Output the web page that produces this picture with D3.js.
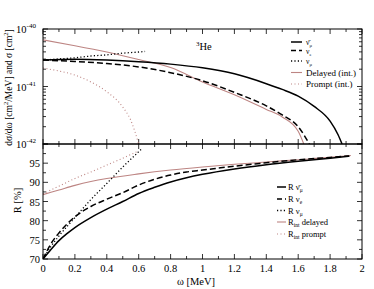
<!DOCTYPE html>
<html>
<head>
<meta charset="utf-8">
<script src="https://cdn.jsdelivr.net/npm/d3@7"></script>
<style>
  body { margin: 0; background: #fff; }
  text { font-family: "Liberation Serif", "DejaVu Serif", serif; fill: #000; }
</style>
</head>
<body>
<div id="chart"></div>
<script>
// omega grid [MeV] and cross sections [cm^2]
const wNuBarMu = [0, 0.2, 0.4, 0.6, 0.8, 1.0, 1.2, 1.4, 1.5, 1.6, 1.7, 1.8, 1.85, 1.875];
const sNuBarMu = [2.88e-41, 2.97e-41, 2.88e-41, 2.70e-41, 2.45e-41, 2.11e-41, 1.66e-41, 1.12e-41, 8.9e-42, 6.8e-42, 4.5e-42, 2.5e-42, 1.45e-42, 1.0e-42];
const wNuE = [0, 0.2, 0.4, 0.6, 0.8, 1.0, 1.2, 1.4, 1.5, 1.6, 1.67];
const sNuE = [2.88e-41, 2.72e-41, 2.51e-41, 2.19e-41, 1.74e-41, 1.26e-41, 7.9e-42, 4.6e-42, 3.2e-42, 2.0e-42, 1.0e-42];
const wNuMu = [0, 0.1, 0.2, 0.3, 0.4, 0.5, 0.6, 0.64];
const sNuMu = [2.88e-41, 3.02e-41, 3.16e-41, 3.39e-41, 3.55e-41, 3.80e-41, 3.98e-41, 4.07e-41];
const wDelayed = [0, 0.2, 0.4, 0.6, 0.8, 1.0, 1.2, 1.4, 1.5, 1.6, 1.635];
const sDelayed = [6.46e-41, 5.13e-41, 3.98e-41, 2.95e-41, 2.14e-41, 1.20e-41, 7.2e-42, 4.0e-42, 2.95e-42, 1.66e-42, 1.0e-42];
const wPrompt = [0, 0.1, 0.2, 0.3, 0.4, 0.5, 0.55, 0.6];
const sPrompt = [2.09e-41, 1.86e-41, 1.58e-41, 1.20e-41, 8.1e-42, 4.4e-42, 2.6e-42, 1.0e-42];

// ratios R [%]
const wR = [0, 0.05, 0.1, 0.15, 0.2, 0.3, 0.4, 0.5, 0.6, 0.7, 0.8, 0.9, 1.0, 1.2, 1.4, 1.6, 1.8, 1.92];
const rNuBarMu = [70, 72.5, 74.8, 76.6, 78.2, 80.8, 83, 85, 87.1, 88.7, 90.1, 91.2, 92.1, 93.5, 94.6, 95.5, 96.3, 96.8];
const rNuE = [70, 74, 76.8, 79.1, 81, 83.7, 85.6, 87.3, 89.3, 90.8, 91.9, 92.7, 93.2, 94.2, 95.1, 95.9, 96.5, 96.9];
const wRNuMu = [0, 0.05, 0.1, 0.2, 0.3, 0.4, 0.5, 0.6, 0.62];
const rNuMu = [70, 73.3, 76, 80.8, 85.5, 89.7, 94, 98, 98.8];
const wRDelayed = [0, 0.1, 0.2, 0.3, 0.4, 0.6, 0.8, 1.0, 1.2, 1.4, 1.6, 1.8, 1.93];
const rDelayed = [86.8, 88, 89.2, 90.2, 91, 92.2, 93.2, 94, 94.7, 95.3, 95.9, 96.5, 97];
const wRPrompt = [0, 0.1, 0.2, 0.3, 0.4, 0.5, 0.6];
const rPrompt = [87, 89, 91, 92.7, 94.5, 96.3, 98.2];

const xTicks = [0, 0.2, 0.4, 0.6, 0.8, 1, 1.2, 1.4, 1.6, 1.8, 2];
const rTicks = [70, 75, 80, 85, 90, 95];

const width = 374, height = 289;
const left = 43, right = 362;
const topY0 = 29, topY1 = 144, botY1 = 259;
const brown = "#bd8583";

const svg = d3.select("#chart").append("svg")
  .attr("width", width).attr("height", height);

const x = d3.scaleLinear().domain([0, 2]).range([left, right]);
const yTop = d3.scaleLog().domain([1e-42, 1e-40]).range([topY1, topY0]);
const yBot = d3.scaleLinear().domain([70, 100]).range([botY1, topY1]);

const zip = (a, b) => a.map((v, i) => [v, b[i]]);

// clip paths for panels
const defs = svg.append("defs");
defs.append("clipPath").attr("id", "clipTop").append("rect")
  .attr("x", left).attr("y", topY0).attr("width", right - left).attr("height", topY1 - topY0);
defs.append("clipPath").attr("id", "clipBot").append("rect")
  .attr("x", left).attr("y", topY1).attr("width", right - left).attr("height", botY1 - topY1);

function drawLine(g, pts, y, color, widthPx, dash) {
  const line = d3.line().x(d => x(d[0])).y(d => y(d[1])).curve(d3.curveMonotoneX);
  g.append("path").datum(pts)
    .attr("d", line)
    .attr("fill", "none")
    .attr("stroke", color)
    .attr("stroke-width", widthPx)
    .attr("stroke-dasharray", dash || null);
}

// ---------- ticks ----------
const axes = svg.append("g").attr("stroke", "#000").attr("stroke-width", 0.8);
const xMinor = d3.range(0, 2.001, 0.1);
[[topY0, 1], [topY1, -1], [topY1, 1], [botY1, -1]].forEach(([yy, dir]) => {
  xMinor.forEach((v, i) => {
    const len = i % 2 === 0 ? 5 : 3;
    axes.append("line").attr("x1", x(v)).attr("x2", x(v))
      .attr("y1", yy).attr("y2", yy + dir * len);
  });
});
// log ticks on the top panel
const logTicks = [];
[-42, -41].forEach(e => {
  for (let m = 1; m < 10; m++) logTicks.push({ v: m * Math.pow(10, e), major: m === 1 });
});
logTicks.push({ v: 1e-40, major: true });
logTicks.forEach(t => {
  const len = t.major ? 5 : 3;
  axes.append("line").attr("x1", left).attr("x2", left + len).attr("y1", yTop(t.v)).attr("y2", yTop(t.v));
  axes.append("line").attr("x1", right).attr("x2", right - len).attr("y1", yTop(t.v)).attr("y2", yTop(t.v));
});
// linear ticks on bottom panel
d3.range(70, 100.01, 2.5).forEach((v, i) => {
  const len = i % 2 === 0 ? 5 : 3;
  axes.append("line").attr("x1", left).attr("x2", left + len).attr("y1", yBot(v)).attr("y2", yBot(v));
  axes.append("line").attr("x1", right).attr("x2", right - len).attr("y1", yBot(v)).attr("y2", yBot(v));
});

// ---------- curves ----------
const gTop = svg.append("g").attr("clip-path", "url(#clipTop)");
drawLine(gTop, zip(wPrompt, sPrompt), yTop, brown, 1.1, "1,2.5");
drawLine(gTop, zip(wDelayed, sDelayed), yTop, brown, 1.1);
drawLine(gTop, zip(wNuMu, sNuMu), yTop, "#000", 1.3, "1.2,2.2");
drawLine(gTop, zip(wNuE, sNuE), yTop, "#000", 1.5, "6,3");
drawLine(gTop, zip(wNuBarMu, sNuBarMu), yTop, "#000", 1.5);

const gBot = svg.append("g").attr("clip-path", "url(#clipBot)");
drawLine(gBot, zip(wRPrompt, rPrompt), yBot, brown, 1.1, "1,2.5");
drawLine(gBot, zip(wRDelayed, rDelayed), yBot, brown, 1.1);
drawLine(gBot, zip(wRNuMu, rNuMu), yBot, "#000", 1.3, "1.2,2.2");
drawLine(gBot, zip(wR, rNuE), yBot, "#000", 1.5, "6,3");
drawLine(gBot, zip(wR, rNuBarMu), yBot, "#000", 1.5);

// ---------- frames ----------
svg.append("rect").attr("x", left).attr("y", topY0).attr("width", right - left).attr("height", topY1 - topY0)
  .attr("fill", "none").attr("stroke", "#000").attr("stroke-width", 1);
svg.append("rect").attr("x", left).attr("y", topY1).attr("width", right - left).attr("height", botY1 - topY1)
  .attr("fill", "none").attr("stroke", "#000").attr("stroke-width", 1);

// ---------- tick labels ----------
xTicks.forEach(v => {
  svg.append("text").attr("x", x(v)).attr("y", botY1 + 13)
    .attr("text-anchor", "middle").attr("font-size", 10.5).text(v);
});
rTicks.forEach(v => {
  svg.append("text").attr("x", left - 3).attr("y", yBot(v) + 4)
    .attr("text-anchor", "end").attr("font-size", 10.5).text(v);
});
[[-40, 1e-40], [-41, 1e-41], [-42, 1e-42]].forEach(([e, v]) => {
  const t = svg.append("text").attr("x", left - 17).attr("y", yTop(v) + 4)
    .attr("text-anchor", "middle").attr("font-size", 10.5);
  t.append("tspan").text("10");
  t.append("tspan").attr("dy", -5).attr("font-size", 7).text(e);
});

// ---------- axis titles ----------
const yt = svg.append("text")
  .attr("transform", `translate(12, ${(topY0 + topY1) / 2 + 1}) rotate(-90)`)
  .attr("text-anchor", "middle").attr("font-size", 9.5);
yt.append("tspan").text("dσ/dω  [cm");
yt.append("tspan").attr("dy", -4).attr("font-size", 6.5).text("2");
yt.append("tspan").attr("dy", 4).text("/MeV] and σ [cm");
yt.append("tspan").attr("dy", -4).attr("font-size", 6.5).text("2");
yt.append("tspan").attr("dy", 4).text("]");

svg.append("text")
  .attr("transform", `translate(21, ${(topY1 + botY1) / 2 - 1}) rotate(-90)`)
  .attr("text-anchor", "middle").attr("font-size", 10.5).text("R [%]");

svg.append("text").attr("x", 196).attr("y", 285)
  .attr("text-anchor", "middle").attr("font-size", 10.5).text("ω [MeV]");

const he = svg.append("text").attr("x", 196).attr("y", 50).attr("font-size", 10.5);
he.append("tspan").attr("dy", -4).attr("font-size", 7).text("3");
he.append("tspan").attr("dy", 4).text("He");

// ---------- legends ----------
function legend(items, x0, x1, tx, fontSize) {
  items.forEach(it => {
    svg.append("line").attr("x1", x0).attr("x2", x1).attr("y1", it.y).attr("y2", it.y)
      .attr("stroke", it.color).attr("stroke-width", it.w).attr("stroke-dasharray", it.dash || null);
    const fs = it.fs || fontSize;
    const t = svg.append("text").attr("x", tx).attr("y", it.y + 3).attr("font-size", fs);
    it.parts.forEach(p => {
      const s = t.append("tspan").text(p[0]);
      if (p[1] === "sub") s.attr("dy", 2).attr("font-size", fs * 0.65);
      if (p[1] === "back") s.attr("dy", -2);
    });
  });
}

legend([
  { y: 42, fs: 7.5, color: "#000", w: 1.5, parts: [["ν\u0304"], ["μ", "sub"]] },
  { y: 50.5, fs: 7.5, color: "#000", w: 1.5, dash: "5,3", parts: [["ν"], ["e", "sub"]] },
  { y: 61, fs: 7.5, color: "#000", w: 1.3, dash: "1.2,2.2", parts: [["ν"], ["μ", "sub"]] },
  { y: 72.5, color: brown, w: 1.1, parts: [["Delayed (int.)"]] },
  { y: 84, color: brown, w: 1.1, dash: "1,2.5", parts: [["Prompt (int.)"]] }
], 291, 302, 306, 9);

legend([
  { y: 187, color: "#000", w: 1.5, parts: [["R ν\u0304"], ["μ", "sub"]] },
  { y: 199, color: "#000", w: 1.5, dash: "5,3", parts: [["R ν"], ["e", "sub"]] },
  { y: 210.5, color: "#000", w: 1.3, dash: "1.2,2.2", parts: [["R ν"], ["μ", "sub"]] },
  { y: 222, color: brown, w: 1.1, parts: [["R"], ["int", "sub"], [" delayed", "back"]] },
  { y: 234, color: brown, w: 1.1, dash: "1,2.5", parts: [["R"], ["int", "sub"], [" prompt", "back"]] }
], 277, 286, 288, 8.5);
</script>
</body>
</html>
